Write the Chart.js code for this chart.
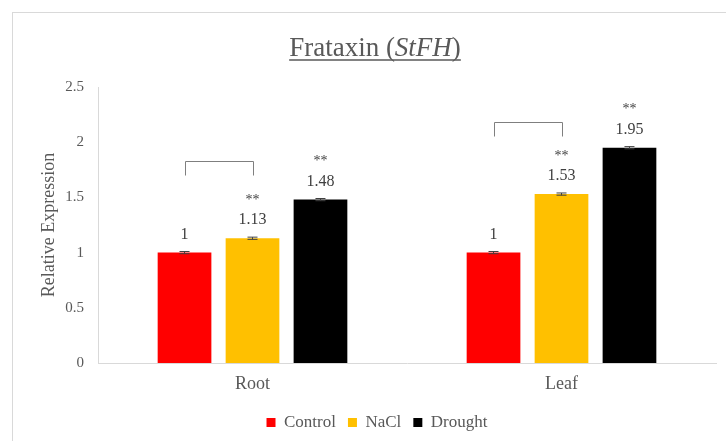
<!DOCTYPE html>
<html>
<head>
<meta charset="utf-8">
<script src="https://cdn.jsdelivr.net/npm/chart.js@4.4.1/dist/chart.umd.min.js"></script>
<style>
  html, body { margin: 0; padding: 0; background: #fff; }
  #wrap { width: 726px; height: 441px; }
</style>
</head>
<body>
<div id="wrap"><canvas id="chart" width="726" height="441"></canvas></div>
<script>
// values
const categories = ['Root', 'Leaf'];
const seriesNames = ['Control', 'NaCl', 'Drought'];
const controlValues = [1, 1];
const naclValues = [1.13, 1.53];
const droughtValues = [1.48, 1.95];
const errControl = [0.01, 0.01];
const errNacl = [0.01, 0.01];
const errDrought = [0.01, 0.01];
const starsNacl = ['**', '**'];
const starsDrought = ['**', '**'];
// bracket height (data units) over Control / NaCl in each group
const bracketLevels = [1.83, 2.18];
const yTicks = [0, 0.5, 1, 1.5, 2, 2.5];

const serif = "'Liberation Serif', 'Times New Roman', serif";
const grey = '#595959';

const errors = [errControl, errNacl, errDrought];
const stars = [['', ''], starsNacl, starsDrought];

// frame, title, error bars, labels and brackets
const extras = {
    id: 'extras',
    beforeDraw(chart) {
        const c = chart.ctx;
        c.save();
        c.strokeStyle = '#d9d9d9';
        c.lineWidth = 1;
        c.strokeRect(12.5, 12.5, 800, 800);
        c.restore();
    },
    afterDatasetsDraw(chart) {
        const c = chart.ctx;
        const y = chart.scales.y;
        c.save();

        // title with italic gene name, underlined
        const parts = [['Frataxin (', ''], ['StFH', 'italic '], [')', '']];
        let total = 0;
        parts.forEach(p => {
            c.font = p[1] + '27px ' + serif;
            total += c.measureText(p[0]).width;
        });
        let x = 375 - total / 2;
        const base = 56;
        c.fillStyle = grey;
        c.textBaseline = 'alphabetic';
        c.textAlign = 'left';
        parts.forEach(p => {
            c.font = p[1] + '27px ' + serif;
            c.fillText(p[0], x, base);
            x += c.measureText(p[0]).width;
        });
        c.strokeStyle = grey;
        c.lineWidth = 1.3;
        c.beginPath();
        c.moveTo(375 - total / 2, base + 4);
        c.lineTo(375 + total / 2, base + 4);
        c.stroke();

        // error bars, values, stars
        chart.data.datasets.forEach((ds, di) => {
            const meta = chart.getDatasetMeta(di);
            meta.data.forEach((bar, i) => {
                const v = ds.data[i];
                const e = errors[di][i];
                const yHi = y.getPixelForValue(v + e);
                const yLo = y.getPixelForValue(v - e);
                c.strokeStyle = '#404040';
                c.lineWidth = 1;
                c.beginPath();
                c.moveTo(bar.x, yHi); c.lineTo(bar.x, yLo);
                c.moveTo(bar.x - 5, yHi); c.lineTo(bar.x + 5, yHi);
                c.moveTo(bar.x - 5, yLo); c.lineTo(bar.x + 5, yLo);
                c.stroke();

                c.fillStyle = '#404040';
                c.textAlign = 'center';
                c.textBaseline = 'middle';
                c.font = '16px ' + serif;
                c.fillText(String(v), bar.x, bar.y - 18);
                if (stars[di][i]) {
                    c.font = '14px ' + serif;
                    c.fillText(stars[di][i], bar.x, bar.y - 38);
                }
            });
        });

        // significance brackets between Control and NaCl
        const m0 = chart.getDatasetMeta(0);
        const m1 = chart.getDatasetMeta(1);
        c.strokeStyle = '#7f7f7f';
        c.lineWidth = 1;
        bracketLevels.forEach((lv, i) => {
            const top = Math.round(y.getPixelForValue(lv)) + 0.5;
            const x0 = Math.round(m0.data[i].x) + 0.5;
            const x1 = Math.round(m1.data[i].x) + 0.5;
            c.beginPath();
            c.moveTo(x0, top + 14);
            c.lineTo(x0, top);
            c.lineTo(x1, top);
            c.lineTo(x1, top + 14);
            c.stroke();
        });
        c.restore();
    }
};

new Chart(document.getElementById('chart'), {
    type: 'bar',
    data: {
        labels: categories,
        datasets: [{
            label: seriesNames[0],
            data: controlValues,
            backgroundColor: '#ff0000'
        }, {
            label: seriesNames[1],
            data: naclValues,
            backgroundColor: '#ffc000'
        }, {
            label: seriesNames[2],
            data: droughtValues,
            backgroundColor: '#000000'
        }]
    },
    options: {
        responsive: false,
        animation: false,
        devicePixelRatio: 1,
        layout: {
            padding: { left: 38, top: 87, right: 10, bottom: 0 }
        },
        datasets: {
            bar: { categoryPercentage: 0.66, barPercentage: 0.79 }
        },
        scales: {
            x: {
                grid: { display: false },
                border: { display: true, color: '#d9d9d9' },
                ticks: { color: grey, font: { family: serif, size: 18 }, padding: 2 },
                afterFit(scale) { scale.height = 39; }
            },
            y: {
                min: 0,
                max: 2.5,
                grid: { display: false },
                border: { display: true, color: '#d9d9d9' },
                afterBuildTicks(scale) {
                    scale.ticks = yTicks.map(v => ({ value: v }));
                },
                ticks: {
                    color: grey,
                    font: { family: serif, size: 15 },
                    padding: 6,
                    callback: v => String(v)
                },
                title: {
                    display: true,
                    text: 'Relative Expression',
                    color: grey,
                    font: { family: serif, size: 18 },
                    padding: 0
                },
                afterFit(scale) { scale.width = 60; }
            }
        },
        plugins: {
            legend: {
                position: 'bottom',
                labels: {
                    color: grey,
                    font: { family: serif, size: 17 },
                    boxWidth: 9,
                    boxHeight: 9,
                    padding: 12
                }
            },
            tooltip: { enabled: false }
        }
    },
    plugins: [extras]
});
</script>
</body>
</html>
